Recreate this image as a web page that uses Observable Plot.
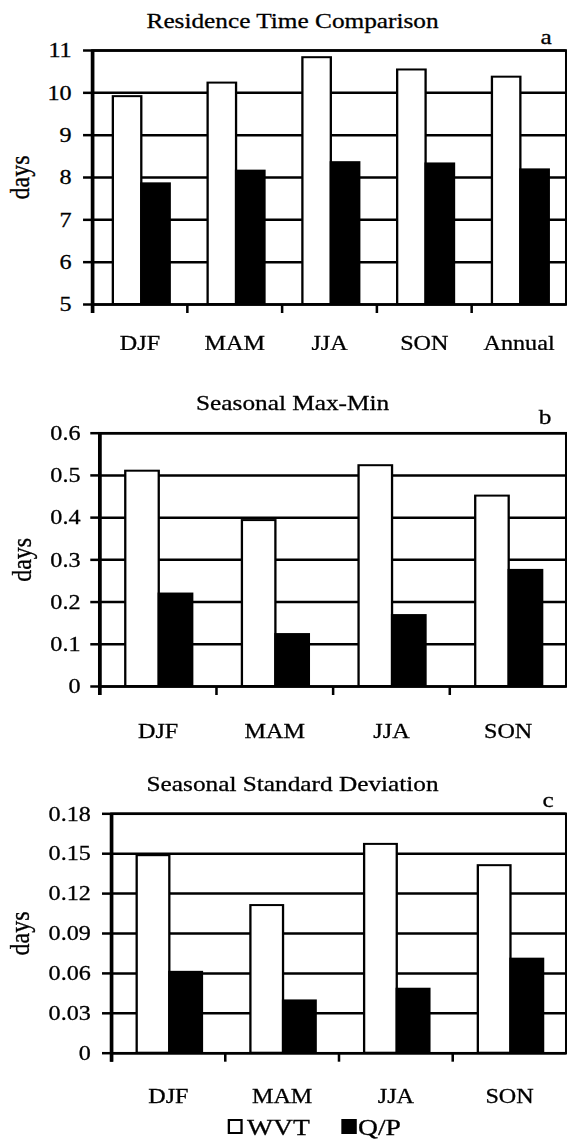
<!DOCTYPE html>
<html><head><meta charset="utf-8">
<script src="https://cdn.jsdelivr.net/npm/d3@7"></script>
<script src="https://cdn.jsdelivr.net/npm/@observablehq/plot@0.6"></script>
<style>
html,body{margin:0;padding:0;background:#fff;overflow:hidden;}
#wrap{position:relative;width:493px;height:1143px;transform:scaleX(1.1501);transform-origin:0 0;font-family:'Liberation Serif','Times New Roman',serif;color:#000;}
.panel{position:absolute;left:0;}
.panel svg text{stroke:#000;stroke-width:0.3px;}
.sw{position:absolute;box-sizing:border-box;width:13px;height:15px;border:2px solid #000;}
.lt{position:absolute;font-size:24px;line-height:24px;white-space:nowrap;-webkit-text-stroke:0.3px #000;}
</style></head><body>
<div id="wrap">
  <div class="panel" id="pa" style="top:0px"></div>
  <div class="panel" id="pb" style="top:350px"></div>
  <div class="panel" id="pc" style="top:760px"></div>
  <div id="legend"></div>
</div>
<script>
// ---- data ----
const seriesNames = ["WVT", "Q/P"];
const seasonsA = ["DJF", "MAM", "JJA", "SON", "Annual"];
const wvtA = [9.91, 10.23, 10.83, 10.54, 10.37];
const qpA = [7.85, 8.15, 8.35, 8.32, 8.18];
const ticksA = [5, 6, 7, 8, 9, 10, 11];

const seasonsB = ["DJF", "MAM", "JJA", "SON"];
const wvtB = [0.510, 0.393, 0.523, 0.451];
const qpB = [0.219, 0.123, 0.168, 0.275];
const ticksB = [0, 0.1, 0.2, 0.3, 0.4, 0.5, 0.6];

const seasonsC = ["DJF", "MAM", "JJA", "SON"];
const wvtC = [0.1485, 0.111, 0.157, 0.141];
const qpC = [0.0608, 0.0393, 0.0481, 0.0707];
const ticksC = [0, 0.03, 0.06, 0.09, 0.12, 0.15, 0.18];

const titles = ["Residence Time Comparison", "Seasonal Max-Min", "Seasonal Standard Deviation"];
const letters = ["a", "b", "c"];
const yLabel = "days";

// ---- drawing ----
const W = 493;
const FONT = "'Liberation Serif','Times New Roman',serif";

function panel(o) {
  const mr = 1;
  const bw = (W - o.ml - mr) / o.cats.length;
  const [fl, fw] = o.frac;
  const ymin = o.ticks[0], ymax = o.ticks[o.ticks.length - 1];
  return Plot.plot({
    width: W, height: o.height,
    marginTop: o.mt, marginBottom: o.mb, marginLeft: o.ml, marginRight: mr,
    style: {fontFamily: FONT, fontSize: "21px", color: "black", background: "white", overflow: "visible"},
    x: {domain: o.cats, padding: 0, round: false},
    y: {domain: [ymin, ymax]},
    marks: [
      Plot.ruleY(o.ticks, {stroke: "black", strokeWidth: 2.5}),
      Plot.frame({stroke: "black", strokeWidth: 2.5}),
      Plot.ruleX(o.cats, {x: d => d, dx: -bw / 2, y1: ymin, y2: ymin, insetBottom: -9, stroke: "black", strokeWidth: 2.2}),
      Plot.ruleX(o.cats.slice(0, 1), {x: d => d, dx: -bw / 2, y1: ymax, y2: ymin, insetBottom: -9, stroke: "black", strokeWidth: 3.2}),
      Plot.barY(o.cats, {x: d => d, y1: ymin, y2: (d, i) => o.wvt[i],
        insetLeft: fl * bw, insetRight: bw * (1 - fl - fw), fill: "white", stroke: "black", strokeWidth: 2}),
      Plot.barY(o.cats, {x: d => d, y1: ymin, y2: (d, i) => o.qp[i],
        insetLeft: (fl + fw) * bw, insetRight: bw * (1 - fl - 2 * fw), fill: "black", stroke: "black", strokeWidth: 2}),
      Plot.axisY({ticks: o.ticks, tickSize: 7.8, tickPadding: o.tickPad, tickFormat: d => String(d), fontSize: 21, strokeWidth: 2.5, label: null}),
      Plot.axisX({tickSize: 0, tickPadding: o.labelPad, fontSize: 21, label: null}),
      Plot.text([o.title], {frameAnchor: "top-left", dx: 253.9 - o.ml, dy: o.titleDy, lineAnchor: "bottom", textAnchor: "middle", fontSize: 22}),
      Plot.text([o.letter], {frameAnchor: "top-left", dx: o.letterX - o.ml, dy: o.letterDy, lineAnchor: "bottom", textAnchor: "middle", fontSize: 22}),
      Plot.text([yLabel], {frameAnchor: "left", dx: o.daysX - o.ml, rotate: -90, textAnchor: "middle", lineAnchor: "middle", fontSize: 24})
    ]
  });
}

document.getElementById("pa").appendChild(panel({
  cats: seasonsA, wvt: wvtA, qp: qpA, ticks: ticksA,
  height: 350, mt: 50, mb: 46, ml: 80.0, frac: [0.22, 0.30],
  tickPad: 10.4, labelPad: 31, title: titles[0], titleDy: -23,
  letter: letters[0], letterX: 474.3, letterDy: -7, daysX: 17.4
}));
document.getElementById("pb").appendChild(panel({
  cats: seasonsB, wvt: wvtB, qp: qpB, ticks: ticksB,
  height: 410, mt: 82.7, mb: 74, ml: 86.3, frac: [0.223, 0.287],
  tickPad: 9, labelPad: 37, title: titles[1], titleDy: -23.7,
  letter: letters[1], letterX: 473.4, letterDy: -9.7, daysX: 18.9
}));
document.getElementById("pc").appendChild(panel({
  cats: seasonsC, wvt: wvtC, qp: qpC, ticks: ticksC,
  height: 350, mt: 53.3, mb: 57.3, ml: 96.5, frac: [0.226, 0.287],
  tickPad: 10.2, labelPad: 35, title: titles[2], titleDy: -22.6,
  letter: letters[2], letterX: 476, letterDy: -6.6, daysX: 17.4
}));

// legend
const lg = document.getElementById("legend");
const swX = [198.2, 297.4], txX = [214.8, 311.3], swFill = ["#fff", "#000"];
seriesNames.forEach((name, i) => {
  const s = document.createElement("div");
  s.className = "sw";
  s.style.left = swX[i] + "px"; s.style.top = "1119px"; s.style.background = swFill[i];
  lg.appendChild(s);
  const t = document.createElement("div");
  t.className = "lt";
  t.style.left = txX[i] + "px"; t.style.top = "1115px";
  t.textContent = name;
  lg.appendChild(t);
});
</script>
</body></html>
